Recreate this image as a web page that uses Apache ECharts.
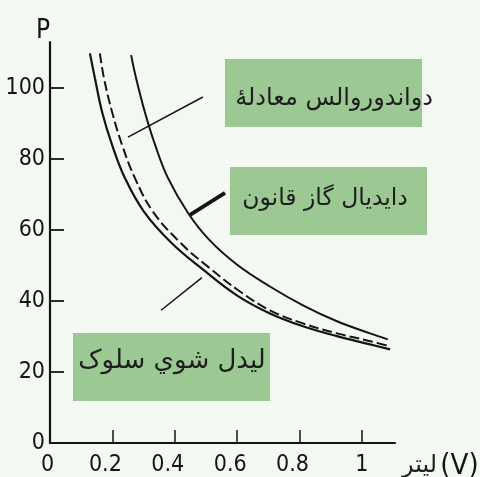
<!DOCTYPE html>
<html>
<head>
<meta charset="utf-8">
<script src="https://cdn.jsdelivr.net/npm/echarts@6/dist/echarts.min.js"></script>
<style>
html,body{margin:0;padding:0;background:#f3f8f3;}
#chart{width:480px;height:477px;}
</style>
</head>
<body>
<div id="chart"></div>
<script>
// ---- data ----
const volumeTicks = [0, 0.2, 0.4, 0.6, 0.8, 1];
const volumeTickMarks = [0.2, 0.4, 0.6, 0.8, 1];
const pressureTicks = [0, 20, 40, 60, 80, 100];
const pressureTickMarks = [20, 40, 60, 80, 100];

// ideal gas law (outer solid curve)
const idealV = [0.260, 0.276, 0.304, 0.337, 0.378, 0.442, 0.510, 0.599, 0.705, 0.811, 0.920, 1.026, 1.083];
const idealP = [109.3, 102.8, 93.3, 84.0, 74.7, 64.9, 57.3, 50.3, 44.1, 38.8, 34.3, 30.9, 29.2];
// van der Waals equation (dashed curve)
const vdwV = [0.160, 0.173, 0.199, 0.231, 0.272, 0.330, 0.417, 0.506, 0.609, 0.705, 0.811, 0.920, 1.026, 1.090];
const vdwP = [109.8, 102.8, 93.3, 84.0, 74.7, 65.2, 56.5, 49.7, 42.7, 37.4, 33.7, 30.9, 28.7, 27.2];
// observed behaviour (inner solid curve)
const realV = [0.128, 0.144, 0.167, 0.199, 0.240, 0.301, 0.388, 0.490, 0.599, 0.705, 0.811, 0.920, 1.026, 1.090];
const realP = [109.8, 102.8, 93.3, 84.0, 74.7, 65.2, 56.5, 48.9, 41.6, 36.5, 32.9, 30.1, 27.8, 26.4];

// pointer lines from labels
const vdwPointerV = [0.490, 0.250];
const vdwPointerP = [97.5, 86.2];
const idealPointerV = [0.561, 0.449];
const idealPointerP = [70.5, 64.3];
const realPointerV = [0.356, 0.487];
const realPointerP = [37.4, 46.6];

const labelVdw = 'دواندوروالس معادلهٔ';
const labelIdeal = 'دایدیال گاز قانون';
const labelReal = 'لیدل شوي سلوک';
const xName = 'لیتر';
const xUnit = '(V)';
const yName = 'P';

function pairs(xs, ys){ return xs.map((x,i)=>[x, ys[i]]); }

const ink = '#141414';
const numFont = '"DejaVu Sans Condensed", "Liberation Sans", sans-serif';
const arFont = '"DejaVu Sans", sans-serif';

const chart = echarts.init(document.getElementById('chart'));
const option = {
  backgroundColor: '#f3f8f3',
  animation: false,
  grid: {left: 50, right: 85, top: 42, bottom: 33},
  xAxis: {
    type: 'value', min: 0, max: 1.106,
    axisLine: {lineStyle: {color: ink, width: 2.2}},
    axisTick: {show: true, inside: true, length: 13, customValues: volumeTickMarks, lineStyle: {color: ink, width: 1.5}},
    axisLabel: {
      customValues: volumeTicks, margin: 11, color: ink, fontFamily: numFont, fontSize: 23,
      formatter: v => v === 1 ? '{c|' + v + '}' : (v === 0 ? '{z|' + v + '}' : '{d|' + v + '}'),
      rich: {
        c: {fontFamily: numFont, fontSize: 23, color: ink},
        z: {fontFamily: numFont, fontSize: 23, color: ink, padding: [0, 5, 0, 0]},
        d: {fontFamily: numFont, fontSize: 23, color: ink, padding: [0, 14, 0, 0]}
      }
    },
    splitLine: {show: false}
  },
  yAxis: {
    type: 'value', min: 0, max: 113,
    name: yName, nameLocation: 'end', nameGap: -2,
    nameTextStyle: {fontFamily: numFont, fontSize: 26, color: ink, align: 'right', padding: [0, 0, 0, 0]},
    axisLine: {lineStyle: {color: ink, width: 2.2}},
    axisTick: {show: true, inside: true, length: 14, customValues: pressureTickMarks, lineStyle: {color: ink, width: 1.8}},
    axisLabel: {customValues: pressureTicks, margin: 5, color: ink, fontFamily: numFont, fontSize: 23},
    splitLine: {show: false}
  },
  graphic: [
    {type: 'rect', shape: {x: 225, y: 59, width: 197, height: 68}, style: {fill: '#9bc893'}, z: 10},
    {type: 'text', x: 433, y: 99, style: {text: labelVdw, font: '24px ' + arFont, fill: '#1e1e1e', align: 'right', verticalAlign: 'middle'}, z: 11},
    {type: 'rect', shape: {x: 230, y: 167, width: 197, height: 68}, style: {fill: '#9bc893'}, z: 10},
    {type: 'text', x: 325, y: 199, style: {text: labelIdeal, font: '23.5px ' + arFont, fill: '#1e1e1e', align: 'center', verticalAlign: 'middle'}, z: 11},
    {type: 'rect', shape: {x: 73, y: 333, width: 197, height: 68}, style: {fill: '#9bc893'}, z: 10},
    {type: 'text', x: 172, y: 361, style: {text: labelReal, font: '26px ' + arFont, fill: '#1e1e1e', align: 'center', verticalAlign: 'middle'}, z: 11},
    {type: 'text', x: 402, y: 466, style: {
      text: '{ar|' + xName + '} {v|' + xUnit + '}', verticalAlign: 'middle', align: 'left',
      rich: {ar: {font: '24px ' + arFont, fill: '#1e1e1e'}, v: {font: '29px ' + numFont, fill: ink}}
    }, z: 11}
  ],
  series: [
    {type: 'line', data: pairs(idealV, idealP), smooth: 0.4, symbol: 'none', lineStyle: {color: ink, width: 2}},
    {type: 'line', data: pairs(vdwV, vdwP), smooth: 0.4, symbol: 'none', lineStyle: {color: ink, width: 2, type: [10, 4]}},
    {type: 'line', data: pairs(realV, realP), smooth: 0.4, symbol: 'none', lineStyle: {color: ink, width: 2.2}},
    {type: 'line', data: pairs(vdwPointerV, vdwPointerP), symbol: 'none', lineStyle: {color: ink, width: 1.5}},
    {type: 'line', data: pairs(idealPointerV, idealPointerP), symbol: 'none', lineStyle: {color: ink, width: 3.8}},
    {type: 'line', data: pairs(realPointerV, realPointerP), symbol: 'none', lineStyle: {color: ink, width: 1.5}}
  ]
};
chart.setOption(option);
</script>
</body>
</html>
